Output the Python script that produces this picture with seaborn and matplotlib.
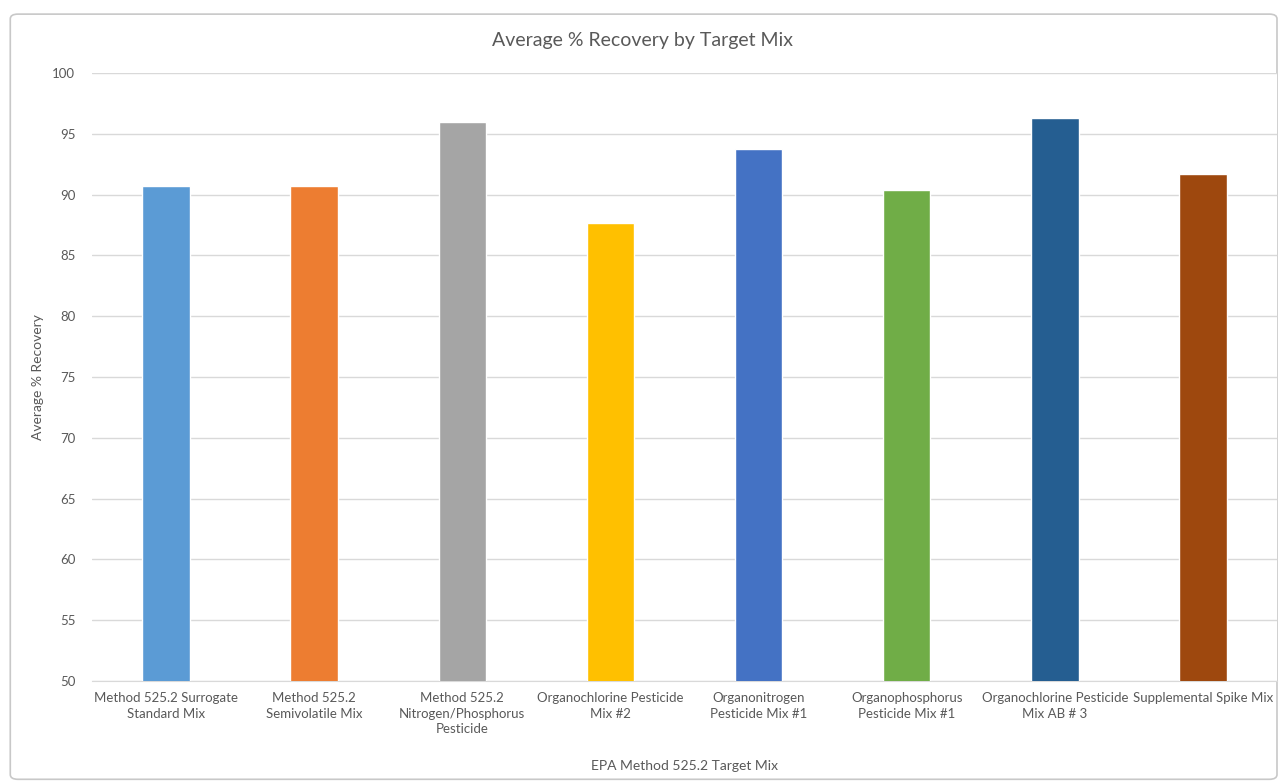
import pandas as pd
import matplotlib.pyplot as plt
import seaborn as sns
from matplotlib.patches import FancyBboxPatch

# data
mixes = ["Method 525.2 Surrogate Standard Mix",
         "Method 525.2 Semivolatile Mix",
         "Method 525.2 Nitrogen/Phosphorus Pesticide",
         "Organochlorine Pesticide Mix #2",
         "Organonitrogen Pesticide Mix #1",
         "Organophosphorus Pesticide Mix #1",
         "Organochlorine Pesticide Mix AB # 3",
         "Supplemental Spike Mix"]
tick_labels = ["Method 525.2 Surrogate\nStandard Mix",
               "Method 525.2\nSemivolatile Mix",
               "Method 525.2\nNitrogen/Phosphorus\nPesticide",
               "Organochlorine Pesticide\nMix #2",
               "Organonitrogen\nPesticide Mix #1",
               "Organophosphorus\nPesticide Mix #1",
               "Organochlorine Pesticide\nMix AB # 3",
               "Supplemental Spike Mix"]
recovery = [90.67, 90.67, 96.0, 87.65, 93.75, 90.4, 96.27, 91.69]
colors = ["#5B9BD5", "#ED7D31", "#A5A5A5", "#FFC000",
          "#4472C4", "#70AD47", "#255E91", "#9E480E"]

df = pd.DataFrame({"Mix": mixes, "Recovery": recovery})

sns.set_style("white")
plt.rcParams['font.family'] = ['Lato', 'DejaVu Sans']
text_col = "#595959"

fig = plt.figure(figsize=(12.86, 7.84), dpi=100)
ax = fig.add_axes([0.0715, 0.1314, 0.9215, 0.7756])

sns.barplot(data=df, x="Mix", y="Recovery", hue="Mix", palette=colors,
            saturation=1, width=0.32, legend=False, ax=ax, zorder=3)

ax.set_ylim(50, 100)
ax.set_yticks(range(50, 101, 5))
ax.set_xlim(-0.5, len(mixes) - 0.5)
ax.set_xticks(range(len(mixes)))
ax.set_xticklabels(tick_labels, fontsize=9.5, color=text_col, linespacing=1.35)
ax.tick_params(axis='y', labelsize=9.5, labelcolor=text_col, length=0, pad=12)
ax.tick_params(axis='x', length=0, pad=8)
ax.grid(axis='y', color="#D9D9D9", linewidth=1, zorder=0)
for s in ['top', 'right', 'left']:
    ax.spines[s].set_visible(False)
ax.spines['bottom'].set_color("#D9D9D9")

ax.set_xlabel("EPA Method 525.2 Target Mix", fontsize=10, color=text_col, labelpad=18)
ax.set_ylabel("Average % Recovery", fontsize=10, color=text_col, labelpad=6)
fig.text(0.5, 0.948, "Average % Recovery by Target Mix", ha='center', va='center',
         fontsize=14, color=text_col)

# chart frame like the spreadsheet chart object
frame = FancyBboxPatch((0.008, 0.006), 0.985, 0.976, boxstyle="round,pad=0,rounding_size=0.006",
                       transform=fig.transFigure, fill=False, edgecolor="#C8C8C8",
                       linewidth=1.2, zorder=-1)
fig.patches.append(frame)

fig.savefig("out.png", dpi=100)
